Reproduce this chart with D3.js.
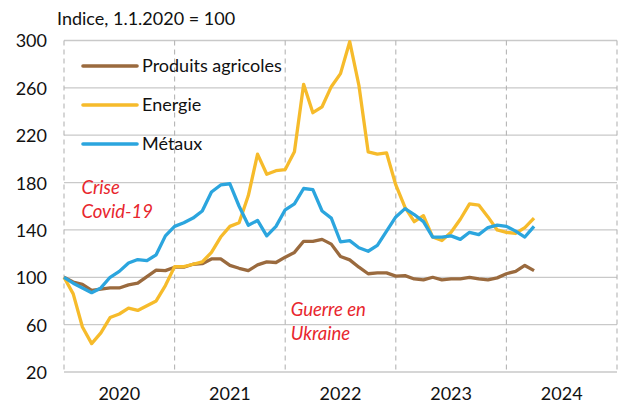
<!DOCTYPE html>
<html>
<head>
<meta charset="utf-8">
<script src="https://cdn.jsdelivr.net/npm/d3@7"></script>
<style>
  html, body { margin: 0; padding: 0; background: #fff; }
  svg { display: block; }
  text { font-family: Lato, "Open Sans", sans-serif; fill: #111; }
</style>
</head>
<body>
<svg id="chart" width="618" height="403"></svg>
<script>
// ---- Data (monthly, Jan 2020 .. Apr 2024) ----
const years = ["2020", "2021", "2022", "2023", "2024"];
const yTicks = [20, 60, 100, 140, 180, 220, 260, 300];

const agricoles = [100, 96, 94, 89, 90, 91, 91, 93.6, 95, 100.6, 106, 105.6,
  108.5, 108.5, 111, 111.5, 115.5, 115.5, 110, 107.6, 105.6, 110.5, 113, 112.5,
  117, 121, 130.4, 130.4, 132, 128, 117.5, 114.7, 108.5, 103, 103.7, 103.7,
  101, 101.4, 98.6, 97.8, 100, 97.8, 98.6, 98.6, 100, 98.6, 97.8, 99.5,
  103, 105, 110, 105.6];

const energie = [100, 86, 58, 44, 53, 66, 69, 74, 72, 76, 80, 93,
  109, 109, 111, 113, 121, 134, 143, 146, 169, 204, 187, 190,
  191, 206, 263, 239, 244, 261, 272, 299, 262, 206, 204, 205,
  178, 159, 147, 152, 134, 131, 138, 149, 162, 161, 151, 140,
  138, 137, 142, 150];

const metaux = [100, 95, 91, 87, 91, 100, 105, 112, 115, 114, 119, 135,
  143, 146, 150, 156, 172, 178, 179, 160, 144, 148, 135, 143,
  157, 162, 175, 174, 156, 150, 130, 131, 125, 122, 127, 139,
  151, 158, 153, 147, 134, 134, 135, 132, 138, 136, 142, 144,
  143, 139, 134, 143];

const seriesNames = ["Produits agricoles", "Energie", "Métaux"];
const seriesColors = ["#9a6a3e", "#f6bb2b", "#2ba5de"];
const seriesData = [agricoles, energie, metaux];

const annotations = [
  { lines: ["Crise", "Covid-19"], month: 1.9, value: 170 },
  { lines: ["Guerre en", "Ukraine"], month: 24.6, value: 67 }
];

// ---- Layout ----
const svg = d3.select("#chart");
const mLeft = 64, mRight = 617, mTop = 40.5, mBottom = 372;

const x = d3.scaleLinear().domain([0, 60]).range([mLeft, mRight]);
const y = d3.scaleLinear().domain([20, 300]).range([mBottom, mTop]);

// horizontal grid
svg.append("g").selectAll("line").data(yTicks).join("line")
  .attr("x1", mLeft).attr("x2", mRight)
  .attr("y1", d => y(d)).attr("y2", d => y(d))
  .attr("stroke", "#c9c9c9").attr("stroke-width", 1.3);

// vertical dashed year lines
svg.append("g").selectAll("line").data(d3.range(0, 6)).join("line")
  .attr("x1", d => x(d * 12)).attr("x2", d => x(d * 12))
  .attr("y1", mTop).attr("y2", mBottom)
  .attr("stroke", "#b5b5b5").attr("stroke-width", 1.1)
  .attr("stroke-dasharray", "5,4");

// y axis labels
const yAxis = d3.axisLeft(y).tickValues(yTicks).tickSize(0).tickPadding(0);
const yg = svg.append("g").attr("transform", `translate(${mLeft - 17},0)`).call(yAxis);
yg.select(".domain").remove();
yg.selectAll("text").style("font-size", "18px").style("font-family", "Lato, sans-serif")
  .attr("fill", "#111").attr("dy", "0.36em");

// x axis labels
const xg = svg.append("g");
xg.selectAll("text").data(years).join("text")
  .attr("x", (d, i) => x(i * 12 + 6))
  .attr("y", 400)
  .attr("text-anchor", "middle")
  .style("font-size", "18px")
  .text(d => d);

// title
svg.append("text").attr("x", 57).attr("y", 25)
  .style("font-size", "18px").text("Indice, 1.1.2020 = 100");

// lines
const line = d3.line().x((d, i) => x(i)).y(d => y(d));
svg.append("g").selectAll("path").data(seriesData).join("path")
  .attr("d", d => line(d))
  .attr("fill", "none")
  .attr("stroke", (d, i) => seriesColors[i])
  .attr("stroke-width", 3.3)
  .attr("stroke-linejoin", "round");

// legend
const lg = svg.append("g");
seriesNames.forEach((name, i) => {
  const ly = 66 + i * 39;
  lg.append("line").attr("x1", 83).attr("x2", 137).attr("y1", ly).attr("y2", ly)
    .attr("stroke", seriesColors[i]).attr("stroke-width", 3.6).attr("stroke-linecap", "round");
  lg.append("text").attr("x", 142).attr("y", ly).attr("dy", "0.36em")
    .style("font-size", "18px").text(name);
});

// annotations
annotations.forEach(a => {
  a.lines.forEach((t, j) => {
    svg.append("text")
      .attr("x", x(a.month))
      .attr("y", y(a.value) + j * 24)
      .style("font-size", "18.5px").style("font-style", "italic")
      .style("fill", "#e8262d")
      .text(t);
  });
});
</script>
</body>
</html>
